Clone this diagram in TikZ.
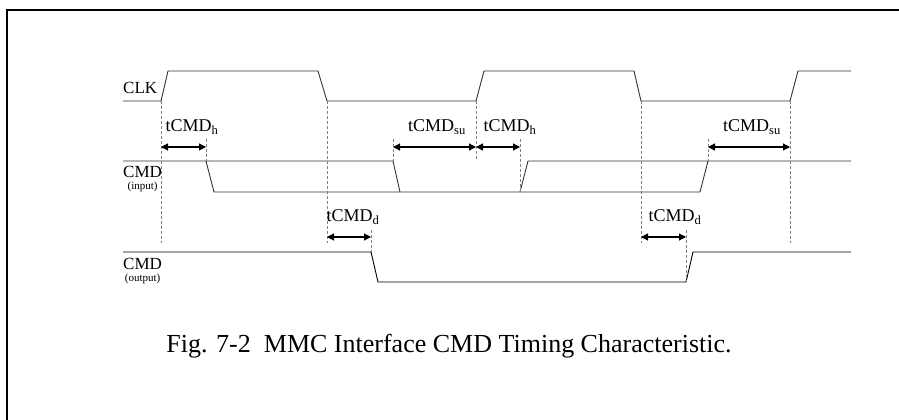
\documentclass[tikz,border=0pt]{standalone}
\usepackage{fontspec}
\setmainfont{Liberation Serif}
\usetikzlibrary{arrows.meta,positioning}
\definecolor{waveline}{HTML}{333333}
\definecolor{guideline}{HTML}{808080}

\begin{document}
\begin{tikzpicture}[x=1pt,y=-1pt,
  wave/.style={line width=0.9pt, draw=waveline},
  guide/.style={draw=guideline, line width=0.8pt, dash pattern=on 3pt off 2pt},
  span/.style={{Triangle[length=7pt,width=7pt]}-{Triangle[length=7pt,width=7pt]}, line width=1.1pt},
  timing/.style={font=\fontsize{18}{20}\selectfont, inner sep=0pt},
  signame/.style={font=\fontsize{17}{19}\selectfont, inner sep=0pt, anchor=west},
  signote/.style={font=\fontsize{11}{12}\selectfont, inner sep=0pt}
]
\useasboundingbox (0,0) rectangle (899,420);
\draw[line width=2pt] (7,420) -- (7,10) -- (899,10);

% clock edges
\coordinate (r1) at (161,101);
\coordinate (f1) at (327,101);
\coordinate (r2) at (476,101);
\coordinate (f2) at (641,101);
\coordinate (r3) at (790,101);

% signal names
\node[signame] (clk) at (123,88) {CLK};
\node[signame] (cmdin) at (123,172) {CMD};
\node[signote, below=4pt of cmdin] (cmdinnote) {(input)};
\node[signame] (cmdout) at (123,264) {CMD};
\node[signote, below=4pt of cmdout] (cmdoutnote) {(output)};

% waveforms
\draw[wave] (123,101) -- (r1) -- (168,71) -- (318,71) -- (f1) -- (r2) -- (484,71)
  -- (634,71) -- (f2) -- (r3) -- (798,71) -- (851,71);
\draw[wave] (123,161) -- (393,161) -- (400,192);
\draw[wave] (206,161) -- (214,192) -- (700,192) -- (708,161);
\draw[wave] (520,192) -- (528,161) -- (851,161);
\draw[draw=black, line width=0.9pt] (123,252) -- (371,252) -- (378,282) -- (686,282)
  -- (693,252) -- (851,252);

% guides
\coordinate (h1) at (206,161);
\coordinate (s1) at (393,161);
\coordinate (h2) at (520,192);
\coordinate (s2) at (708,161);
\coordinate (d1) at (371,252);
\coordinate (d2) at (686,282);
\draw[guide] (r1) -- (161,243);
\draw[guide] (f1) -- (327,243);
\draw[guide] (r2) -- (476,161);
\draw[guide] (f2) -- (641,243);
\draw[guide] (r3) -- (790,243);
\draw[guide] (206,139) -- (h1);
\draw[guide] (393,139) -- (s1);
\draw[guide] (520,139) -- (h2);
\draw[guide] (708,139) -- (s2);
\draw[guide] (371,230) -- (d1);
\draw[guide] (686,230) -- (d2);

% timing spans
\draw[span] (161,147) -- (206,147);
\draw[span] (393,147) -- (476,147);
\draw[span] (476,147) -- (520,147);
\draw[span] (708,147) -- (790,147);
\draw[span] (327,237) -- (371,237);
\draw[span] (641,237) -- (686,237);

\node[timing] (th1) at (192,127) {tCMD\textsubscript{h}};
\node[timing] (tsu1) at (437,127) {tCMD\textsubscript{su}};
\node[timing] (th2) at (510,127) {tCMD\textsubscript{h}};
\node[timing] (tsu2) at (752,127) {tCMD\textsubscript{su}};
\node[timing] (td1) at (353,217) {tCMD\textsubscript{d}};
\node[timing] (td2) at (675,217) {tCMD\textsubscript{d}};

\node[font=\fontsize{26}{28}\selectfont, inner sep=0pt] (caption) at (449,346)
  {Fig. 7-2~~MMC Interface CMD Timing Characteristic.};
\end{tikzpicture}
\end{document}
